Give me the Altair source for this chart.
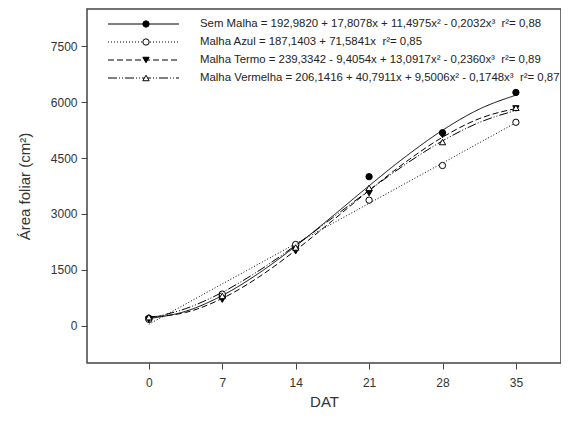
import altair as alt
import pandas as pd

series = ["Sem Malha", "Malha Azul", "Malha Termo", "Malha Vermelha"]
equations = [
    "Sem Malha = 192,9820 + 17,8078x + 11,4975x² - 0,2032x³\u00a0 r²= 0,88",
    "Malha Azul = 187,1403 + 71,5841x\u00a0 r²= 0,85",
    "Malha Termo = 239,3342 - 9,4054x + 13,0917x² - 0,2360x³\u00a0 r²= 0,89",
    "Malha Vermelha = 206,1416 + 40,7911x + 9,5006x² - 0,1748x³\u00a0 r²= 0,87",
]

# observed means
dat = [0, 7, 14, 21, 28, 35]
obs_sem = [200, 800, 2150, 4000, 5180, 6260]
obs_azul = [170, 850, 2180, 3370, 4300, 5460]
obs_termo = [170, 700, 2000, 3560, 5120, 5830]
obs_vermelha = [230, 800, 2100, 3700, 4930, 5850]

# fitted curves
fit_x = [0, 3.5, 7, 10.5, 14, 17.5, 21, 24.5, 28, 31.5, 35]
fit_sem = [193, 387, 811, 1412, 2138, 2937, 3756, 4543, 5245, 5811, 6188]
fit_azul = [40, 581, 1122, 1662, 2203, 2744, 3285, 3825, 4366, 4907, 5448]
fit_termo = [239, 356, 734, 1310, 2026, 2819, 3629, 4396, 5059, 5557, 5829]
fit_vermelha = [206, 458, 897, 1479, 2160, 2893, 3634, 4338, 4960, 5454, 5777]

y_ticks = [0, 1500, 3000, 4500, 6000, 7500]
x_ticks = [0, 7, 14, 21, 28, 35]

obs = [obs_sem, obs_azul, obs_termo, obs_vermelha]
fits = [fit_sem, fit_azul, fit_termo, fit_vermelha]
dashes = [[1, 0], [1, 2], [6, 3], [9, 2, 1, 2, 1, 2]]
shapes = ["circle", "circle", "triangle-down", "triangle-up"]
filled = [True, False, True, False]

FONT = "Liberation Sans"
xs = alt.Scale(domain=[-5.9, 39.3], nice=False, zero=False)
ys = alt.Scale(domain=[-1000, 8500], nice=False, zero=False)

xaxis = alt.Axis(values=x_ticks, title="DAT", grid=False, domain=False, tickSize=6,
                 tickColor="#444", labelFontSize=12, labelColor="#333", labelPadding=8,
                 titleFontSize=15, titleFontWeight="normal", titleColor="#333", titlePadding=6,
                 labelFont=FONT, titleFont=FONT, format="d")
yaxis = alt.Axis(values=y_ticks, title="Área foliar (cm²)", grid=False, domain=False, tickSize=6,
                 tickColor="#444", labelFontSize=12, labelColor="#333", labelPadding=4,
                 titleFontSize=15, titleFontWeight="normal", titleColor="#333", titlePadding=18,
                 labelFont=FONT, titleFont=FONT, format="d")

enc_x = alt.X("x:Q", scale=xs, axis=xaxis)
enc_y = alt.Y("y:Q", scale=ys, axis=yaxis)

layers = []
row_y = [15, 33, 51, 69]
for i, name in enumerate(series):
    fdf = pd.DataFrame({"x": fit_x, "y": fits[i]})
    odf = pd.DataFrame({"x": dat, "y": obs[i]})
    line = alt.Chart(fdf).mark_line(color="black", strokeWidth=1, strokeDash=dashes[i],
                                    interpolate="monotone").encode(x=enc_x, y=enc_y)
    pts = alt.Chart(odf).mark_point(shape=shapes[i], size=40, filled=filled[i],
                                    fill="black" if filled[i] else "white",
                                    stroke="black", strokeWidth=1, opacity=1).encode(
        x=enc_x, y=enc_y)
    ldf = pd.DataFrame({"label": [equations[i]]})
    lrule = alt.Chart(ldf).mark_rule(color="black", strokeWidth=1, strokeDash=dashes[i]).encode(
        x=alt.value(21), x2=alt.value(92), y=alt.value(row_y[i]))
    lpt = alt.Chart(ldf).mark_point(shape=shapes[i], size=40, filled=filled[i],
                                    fill="black" if filled[i] else "white",
                                    stroke="black", strokeWidth=1, opacity=1).encode(
        x=alt.value(59), y=alt.value(row_y[i]))
    ltxt = alt.Chart(ldf).mark_text(align="left", baseline="middle", fontSize=11.4,
                                    font=FONT, color="#222").encode(
        x=alt.value(113), y=alt.value(row_y[i]), text="label:N")
    layers += [line, pts, lrule, lpt, ltxt]

chart = alt.layer(*layers).properties(
    width=474, height=354,
    background="white",
    autosize=alt.AutoSizeParams(type="none"),
    padding={"left": 79, "top": 1, "right": 0, "bottom": 50},
).configure_view(stroke="#444", strokeWidth=1.5)

chart.save("out.html", embed_options={"renderer": "svg", "actions": False})
